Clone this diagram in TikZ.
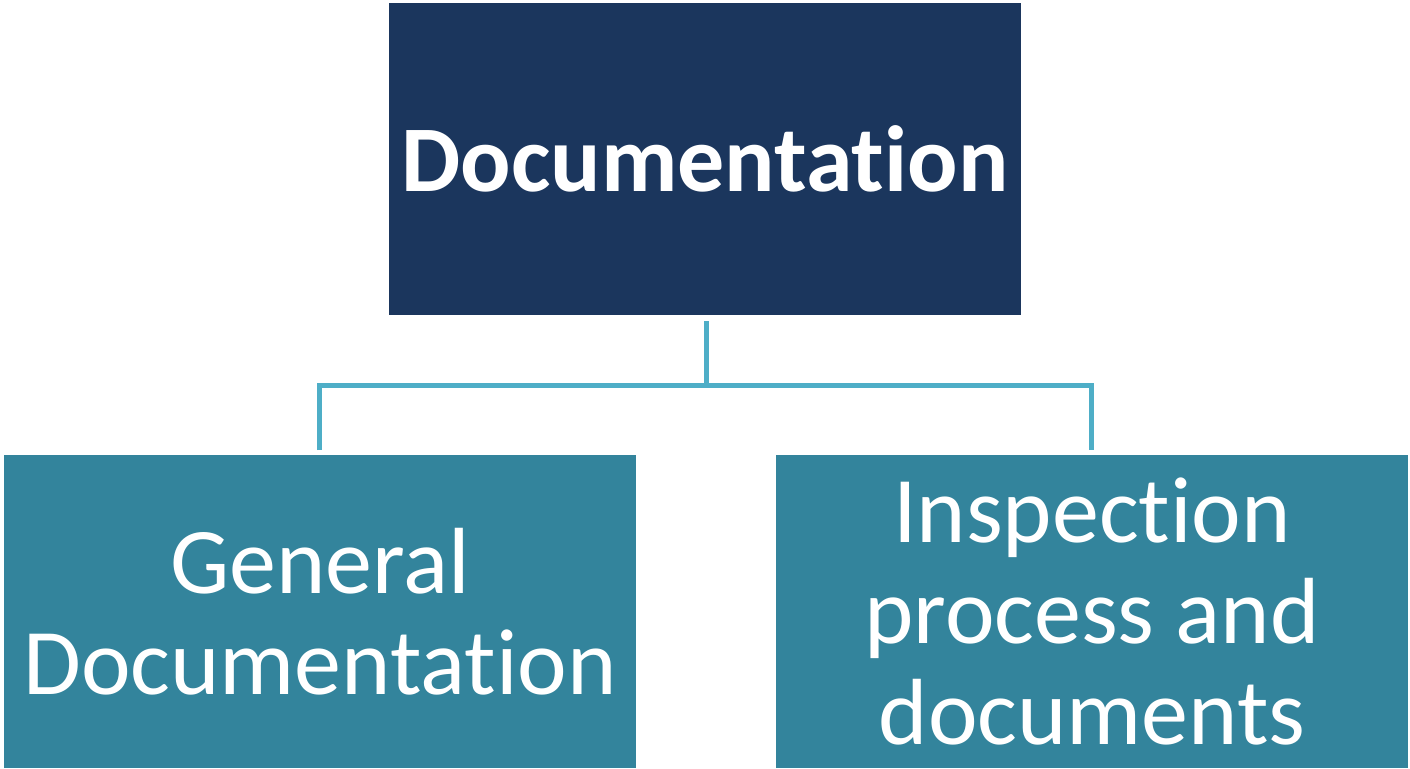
\documentclass[tikz,border=0pt]{standalone}
\usepackage{fontspec}
\setmainfont{Carlito}[RawFeature={-liga;-clig;-dlig}]
\definecolor{navy}{HTML}{1B365D}
\definecolor{tealbox}{HTML}{33849C}
\definecolor{conn}{HTML}{4EAEC7}
\begin{document}
\begin{tikzpicture}[x=1pt,y=-1pt,
  topbox/.style={fill=navy,draw=none,minimum width=632pt,minimum height=312pt,inner sep=0pt,text=white,align=center,font=\fontsize{94}{101}\selectfont\bfseries},
  childbox/.style={fill=tealbox,draw=none,minimum width=632pt,minimum height=313pt,inner sep=0pt,text=white,align=center,font=\fontsize{94}{101}\selectfont},
  link/.style={draw=conn,line width=5pt}]
\useasboundingbox (0,0) rectangle (1410,768);
\node[topbox] (top) at (705,159) {Documentation};
\node[childbox] (left) at (320,611.5) {General\\Documentation};
\node[childbox] (right) at (1092,611.5) {Inspection\\process and\\documents};
\coordinate (ts) at (706,321);
\coordinate (mid) at (706,385.5);
\coordinate (la) at (319.5,385.5);
\coordinate (lb) at (319.5,450);
\coordinate (ra) at (1091.5,385.5);
\coordinate (rb) at (1091.5,450);
\draw[link] (ts) -- (mid);
\draw[link] (lb) -- (la) -- (ra) -- (rb);
\end{tikzpicture}
\end{document}
